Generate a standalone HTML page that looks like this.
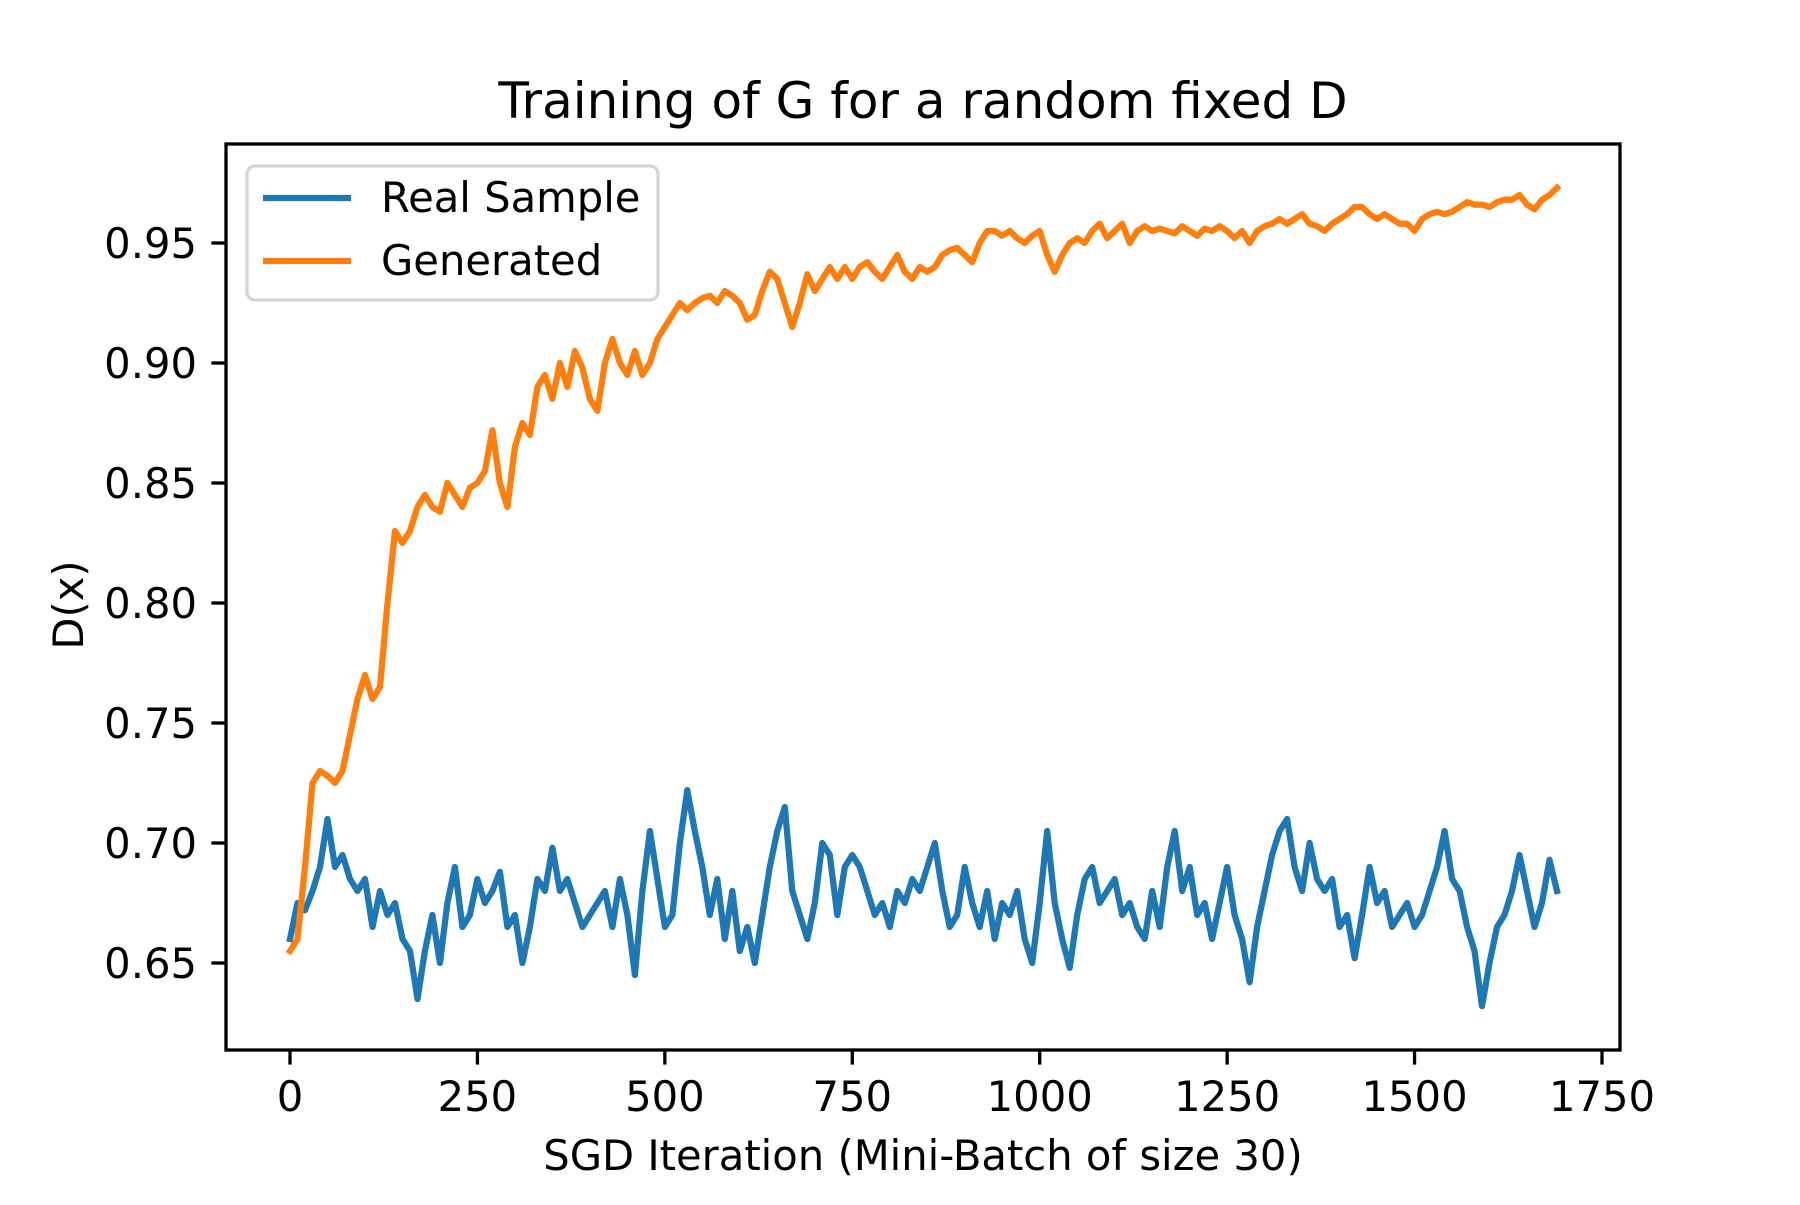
<!DOCTYPE html>
<html><head><meta charset="utf-8"><style>body{margin:0;background:#fff}svg text{font-family:"DejaVu Sans","Liberation Sans",sans-serif;fill:#000}</style></head>
<body>
<svg id="chart" width="1800" height="1200" xmlns="http://www.w3.org/2000/svg">
<rect width="1800" height="1200" fill="#fff"/>
<g id="plot"></g>
<text x="923" y="118" font-size="50" text-anchor="middle">Training of G for a random fixed D</text>
<text x="923" y="1170" font-size="41.7" text-anchor="middle">SGD Iteration (Mini-Batch of size 30)</text>
<text x="0" y="0" font-size="41.7" text-anchor="middle" transform="translate(83,605) rotate(-90)">D(x)</text>
<g>
<rect x="247" y="166" width="411" height="134" rx="8" fill="#fff" fill-opacity="0.8" stroke="#d5d5d5" stroke-width="3.3"/>
<line x1="263" y1="198" x2="351" y2="198" stroke="#1f77b4" stroke-width="6.25"/>
<text x="381" y="212" font-size="41.7">Real Sample</text>
<line x1="263" y1="261" x2="351" y2="261" stroke="#ff7f0e" stroke-width="6.25"/>
<text x="381" y="275" font-size="41.7">Generated</text>
</g>
</svg>
<script>
const step = 10;
const realValues = [0.66,0.675,0.672,0.68,0.69,0.71,0.69,0.695,0.685,0.68,0.685,0.665,0.68,0.67,0.675,0.66,0.655,0.635,0.655,0.67,0.65,0.675,0.69,0.665,0.67,0.685,0.675,0.68,0.688,0.665,0.67,0.65,0.665,0.685,0.68,0.698,0.68,0.685,0.675,0.665,0.67,0.675,0.68,0.665,0.685,0.67,0.645,0.68,0.705,0.685,0.665,0.67,0.7,0.722,0.705,0.69,0.67,0.685,0.66,0.68,0.655,0.665,0.65,0.67,0.69,0.705,0.715,0.68,0.67,0.66,0.675,0.7,0.695,0.67,0.69,0.695,0.69,0.68,0.67,0.675,0.665,0.68,0.675,0.685,0.68,0.69,0.7,0.68,0.665,0.67,0.69,0.675,0.665,0.68,0.66,0.675,0.67,0.68,0.66,0.65,0.675,0.705,0.675,0.66,0.648,0.67,0.685,0.69,0.675,0.68,0.685,0.67,0.675,0.665,0.66,0.68,0.665,0.69,0.705,0.68,0.69,0.67,0.675,0.66,0.675,0.69,0.67,0.66,0.642,0.665,0.68,0.695,0.705,0.71,0.69,0.68,0.7,0.685,0.68,0.685,0.665,0.67,0.652,0.67,0.69,0.675,0.68,0.665,0.67,0.675,0.665,0.67,0.68,0.69,0.705,0.685,0.68,0.665,0.655,0.632,0.65,0.665,0.67,0.68,0.695,0.68,0.665,0.675,0.693,0.68];
const generatedValues = [0.655,0.66,0.69,0.725,0.73,0.728,0.725,0.73,0.745,0.76,0.77,0.76,0.765,0.8,0.83,0.825,0.83,0.84,0.845,0.84,0.838,0.85,0.845,0.84,0.848,0.85,0.855,0.872,0.85,0.84,0.865,0.875,0.87,0.89,0.895,0.885,0.9,0.89,0.905,0.898,0.885,0.88,0.9,0.91,0.9,0.895,0.905,0.895,0.9,0.91,0.915,0.92,0.925,0.922,0.925,0.927,0.928,0.925,0.93,0.928,0.925,0.918,0.92,0.93,0.938,0.935,0.925,0.915,0.925,0.937,0.93,0.935,0.94,0.935,0.94,0.935,0.94,0.942,0.938,0.935,0.94,0.945,0.938,0.935,0.94,0.938,0.94,0.945,0.947,0.948,0.945,0.942,0.95,0.955,0.955,0.953,0.955,0.952,0.95,0.953,0.955,0.945,0.938,0.945,0.95,0.952,0.95,0.955,0.958,0.952,0.955,0.958,0.95,0.955,0.957,0.955,0.956,0.955,0.954,0.957,0.955,0.953,0.956,0.955,0.957,0.955,0.952,0.955,0.95,0.955,0.957,0.958,0.96,0.958,0.96,0.962,0.958,0.957,0.955,0.958,0.96,0.962,0.965,0.965,0.962,0.96,0.962,0.96,0.958,0.958,0.955,0.96,0.962,0.963,0.962,0.963,0.965,0.967,0.966,0.966,0.965,0.967,0.968,0.968,0.97,0.966,0.964,0.968,0.97,0.973];
const xTicks = [0,250,500,750,1000,1250,1500,1750];
const yTicks = [0.65,0.70,0.75,0.80,0.85,0.90,0.95];
const yTickLabels = ["0.65","0.70","0.75","0.80","0.85","0.90","0.95"];

const L=226,R=1620,T=144,B=1050;
const xs = v => 290 + v*(1602-290)/1750;
const ys = v => 963 - (v-0.65)*(963-243)/0.30;
const NS="http://www.w3.org/2000/svg";
const g=document.getElementById('plot');
function mk(tag,attrs){const e=document.createElementNS(NS,tag);for(const k in attrs)e.setAttribute(k,attrs[k]);g.appendChild(e);return e;}
const clip=mk('clipPath',{id:'c'});
const cr=document.createElementNS(NS,'rect');cr.setAttribute('x',L);cr.setAttribute('y',T);cr.setAttribute('width',R-L);cr.setAttribute('height',B-T);clip.appendChild(cr);
function series(vals,color,name){
  const d=vals.map((v,i)=>(i?'L':'M')+xs(i*step).toFixed(1)+','+ys(v).toFixed(1)).join(' ');
  const p=mk('path',{d:d,fill:'none',stroke:color,'stroke-width':6.25,'stroke-linejoin':'round','stroke-linecap':'square','clip-path':'url(#c)'});
  
  
}
series(realValues,'#1f77b4','real-sample-line');
series(generatedValues,'#ff7f0e','generated-line');
const fr=mk('rect',{x:L,y:T,width:R-L,height:B-T,fill:'none',stroke:'#000','stroke-width':3.3});


xTicks.forEach(v=>{
  const x=xs(v);
  const t=mk('line',{x1:x,y1:B,x2:x,y2:B+14.6,stroke:'#000','stroke-width':3.3});
  
  
  const tx=mk('text',{x:x,y:1111,'font-size':41.7,'text-anchor':'middle'});tx.textContent=String(v);
  
  
});
yTicks.forEach((v,i)=>{
  const y=ys(v);
  const t=mk('line',{x1:L-14.6,y1:y,x2:L,y2:y,stroke:'#000','stroke-width':3.3});
  
  
  const tx=mk('text',{x:197,y:y+15,'font-size':41.7,'text-anchor':'end'});tx.textContent=yTickLabels[i];
  
  
});
</script>
</body></html>
